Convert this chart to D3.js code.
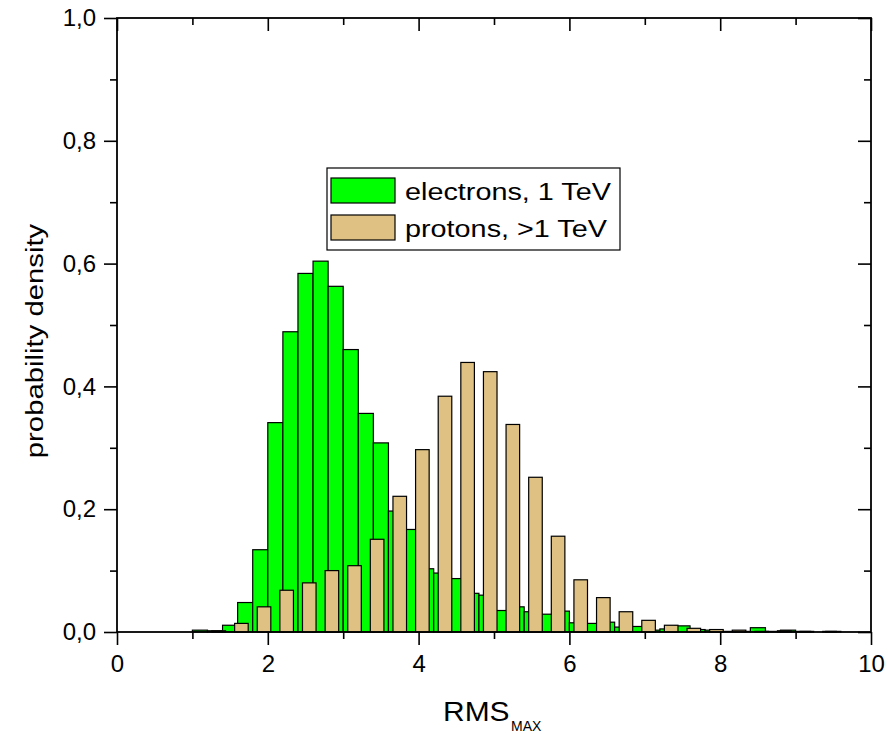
<!DOCTYPE html>
<html><head><meta charset="utf-8">
<script src="https://cdn.jsdelivr.net/npm/d3@7"></script>
<style>body{margin:0;background:#fff}</style>
</head><body>
<svg id="c" width="888" height="734"></svg>
<script>
// electrons: bins of width 0.2 starting at 1.0
const electronBinStart = [1.0,1.2,1.4,1.6,1.8,2.0,2.2,2.4,2.6,2.8,3.0,3.2,3.4,3.6,3.8,4.0,4.2,4.4,4.6,4.8,5.0,5.2,5.4,5.6,5.8,6.0,6.2,6.4,6.6,6.8,7.0,7.2,7.4,7.6,7.8,8.0,8.2,8.4,8.6,8.8,9.0,9.2,9.4];
const electronValues = [0.003,0.002,0.011,0.048,0.134,0.341,0.489,0.584,0.604,0.563,0.460,0.356,0.308,0.197,0.167,0.103,0.096,0.087,0.063,0.060,0.035,0.041,0.033,0.029,0.034,0.015,0.014,0.016,0.008,0.009,0.003,0.005,0.010,0.004,0.003,0.001,0.001,0.007,0.001,0.003,0.001,0.000,0.001];
const electronBinWidth = 0.2;
// protons: bin centres every 0.3
const protonCenters = [1.35,1.65,1.95,2.25,2.55,2.85,3.15,3.45,3.75,4.05,4.35,4.65,4.95,5.25,5.55,5.85,6.15,6.45,6.75,7.05,7.35,7.65,7.95,8.25,8.55,8.85,9.15,9.45];
const protonValues = [0.002,0.014,0.041,0.068,0.080,0.100,0.108,0.151,0.221,0.297,0.384,0.439,0.424,0.338,0.252,0.156,0.085,0.056,0.033,0.019,0.011,0.006,0.004,0.003,0.001,0.002,0.001,0.001];
const protonBarWidth = 0.18;
const seriesNames = ["electrons, 1 TeV","protons, >1 TeV"];
const xMajor = [0,2,4,6,8,10], xMinor = [1,3,5,7,9];
const yMajor = [0,0.2,0.4,0.6,0.8,1.0], yMinor = [0.1,0.3,0.5,0.7,0.9];

const L=117,R=871,T=18,B=632;
const FONT = "'Liberation Sans', Arial, sans-serif";
const svg = d3.select("#c");
const x = d3.scaleLinear().domain([0,10]).range([L,R]);
const y = d3.scaleLinear().domain([0,1]).range([B,T]);
const GREEN="#00ff00", TAN="#dfc183";

// bars
const eData = electronBinStart.map((s,i)=>({s,v:electronValues[i]}));
svg.append("g").selectAll("rect").data(eData).join("rect")
  .attr("x",d=>x(d.s)).attr("width",d=>x(d.s+electronBinWidth)-x(d.s))
  .attr("y",d=>y(d.v)).attr("height",d=>y(0)-y(d.v))
  .attr("fill",GREEN).attr("stroke","#000").attr("stroke-width",1.2);
const pData = protonCenters.map((c,i)=>({c,v:protonValues[i]}));
svg.append("g").selectAll("rect").data(pData).join("rect")
  .attr("x",d=>x(d.c-protonBarWidth/2)).attr("width",d=>x(d.c+protonBarWidth/2)-x(d.c-protonBarWidth/2))
  .attr("y",d=>y(d.v)).attr("height",d=>y(0)-y(d.v))
  .attr("fill",TAN).attr("stroke","#000").attr("stroke-width",1.2);

// axes
const fmt = d=>d3.format(".1f")(d).replace(".",",");
function styleAxis(g){g.select(".domain").remove();g.selectAll("line").attr("stroke","#000").attr("stroke-width",1.6);
  g.selectAll("text").attr("font-family",FONT).attr("font-size",24).attr("fill","#000");}
svg.append("g").attr("transform",`translate(0,${B})`).call(d3.axisBottom(x).tickValues(xMajor).tickSize(13).tickSizeOuter(0).tickPadding(10).tickFormat(d3.format("d"))).call(styleAxis);
svg.append("g").attr("transform",`translate(0,${B})`).call(d3.axisBottom(x).tickValues(xMinor).tickSize(7).tickSizeOuter(0).tickFormat("")).call(styleAxis);
svg.append("g").attr("transform",`translate(${L},0)`).call(d3.axisLeft(y).tickValues(yMajor).tickSize(13).tickSizeOuter(0).tickPadding(8).tickFormat(fmt)).call(styleAxis);
svg.append("g").attr("transform",`translate(${L},0)`).call(d3.axisLeft(y).tickValues(yMinor).tickSize(7).tickSizeOuter(0).tickFormat("")).call(styleAxis);
// top and right (inward ticks)
svg.append("g").attr("transform",`translate(0,${T})`).call(d3.axisBottom(x).tickValues(xMajor).tickSize(13).tickSizeOuter(0).tickFormat("")).call(styleAxis);
svg.append("g").attr("transform",`translate(0,${T})`).call(d3.axisBottom(x).tickValues(xMinor).tickSize(7).tickSizeOuter(0).tickFormat("")).call(styleAxis);
svg.append("g").attr("transform",`translate(${R},0)`).call(d3.axisLeft(y).tickValues(yMajor).tickSize(13).tickSizeOuter(0).tickFormat("")).call(styleAxis);
svg.append("g").attr("transform",`translate(${R},0)`).call(d3.axisLeft(y).tickValues(yMinor).tickSize(7).tickSizeOuter(0).tickFormat("")).call(styleAxis);
svg.append("rect").attr("x",L).attr("y",T).attr("width",R-L).attr("height",B-T)
  .attr("fill","none").attr("stroke","#000").attr("stroke-width",1.8);

// axis titles
svg.append("text").attr("transform","translate(43,341) rotate(-90) scale(1.22,1)")
  .attr("text-anchor","middle").attr("font-family",FONT).attr("font-size",24).text("probability density");
svg.append("text").attr("transform","translate(443,721) scale(1.07,1)")
  .attr("font-family",FONT).attr("font-size",28).text("RMS");
svg.append("text").attr("x",511).attr("y",731).attr("font-family",FONT).attr("font-size",14).text("MAX");

// legend
const lg = svg.append("g");
lg.append("rect").attr("x",327).attr("y",168).attr("width",293).attr("height",82)
  .attr("fill","#fff").attr("stroke","#000").attr("stroke-width",1.2);
const legendColors=[GREEN,TAN];
seriesNames.forEach((n,i)=>{
  lg.append("rect").attr("x",331).attr("y",178+i*37).attr("width",64).attr("height",25)
    .attr("fill",legendColors[i]).attr("stroke","#000").attr("stroke-width",1.2);
  lg.append("text").attr("transform",`translate(405,${200+i*37}) scale(1.2,1)`)
    .attr("font-family",FONT).attr("font-size",24).text(n);
});
</script>
</body></html>
